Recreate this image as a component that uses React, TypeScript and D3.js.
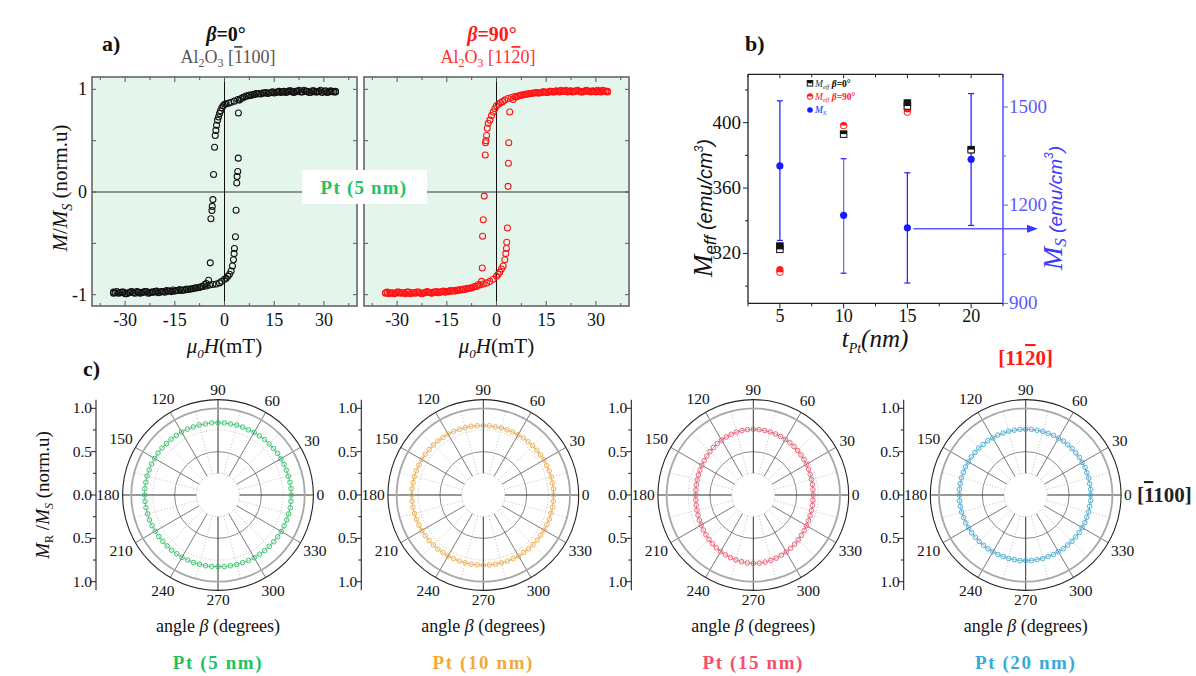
import React from 'react';
import * as d3 from 'd3';

const SERIF = "'Liberation Serif', 'Times New Roman', serif";
const SANS = "'Liberation Sans', Arial, sans-serif";

// ---------- Panel a data: hysteresis loops [H (mT), M/Ms] ----------
const beta0Down: number[][] = [[33.5,0.98],[33,0.975],[32,0.985],[31,0.97],[30,0.98],[29,0.99],[28,0.975],[27,0.985],[26,0.97],[25,0.98],[24,0.99],[23,0.975],[22,0.98],[21,0.97],[20,0.985],[19,0.975],[18,0.98],[17,0.97],[16,0.975],[15,0.965],[14,0.97],[13,0.96],[12,0.965],[11,0.955],[10,0.955],[9,0.95],[8,0.94],[7,0.935],[6,0.925],[5,0.91],[4,0.9],[3,0.885],[2,0.875],[1.2,0.865],[0.5,0.86],[0,0.855],[-0.4,0.84],[-0.8,0.82],[-1.2,0.79],[-1.5,0.765],[-1.8,0.73],[-2.1,0.7],[-2.4,0.65],[-2.6,0.6],[-2.8,0.55],[-3.0,0.435],[-3.3,0.17],[-3.5,-0.074],[-3.7,-0.14],[-3.8,-0.18],[-4.1,-0.26],[-4.3,-0.69],[-4.8,-0.86],[-5.5,-0.89],[-6,-0.9],[-7,-0.92],[-8,-0.93],[-9,-0.935],[-10,-0.945],[-11,-0.95],[-12,-0.955],[-13,-0.96],[-14,-0.96],[-15,-0.965],[-16,-0.97],[-17,-0.965],[-18,-0.975],[-19,-0.97],[-20,-0.98],[-21,-0.97],[-22,-0.975],[-23,-0.985],[-24,-0.97],[-25,-0.98],[-26,-0.975],[-27,-0.985],[-28,-0.97],[-29,-0.98],[-30,-0.99],[-31,-0.975],[-32,-0.985],[-33,-0.98],[-33.5,-0.975]];
const beta0Up: number[][] = [[-33.5,-0.985],[-32.5,-0.97],[-31.5,-0.98],[-30.5,-0.975],[-29.5,-0.99],[-28.5,-0.975],[-27.5,-0.98],[-26.5,-0.97],[-25.5,-0.985],[-24.5,-0.975],[-23.5,-0.97],[-22.5,-0.98],[-21.5,-0.975],[-20.5,-0.965],[-19.5,-0.975],[-18.5,-0.97],[-17.5,-0.96],[-16.5,-0.965],[-15.5,-0.955],[-14.5,-0.96],[-13.5,-0.95],[-12.5,-0.955],[-11.5,-0.945],[-10.5,-0.945],[-9.5,-0.94],[-8.5,-0.935],[-7.5,-0.93],[-6.5,-0.92],[-5.5,-0.915],[-4.5,-0.905],[-3.5,-0.9],[-2.5,-0.895],[-1.5,-0.885],[-0.8,-0.87],[0,-0.85],[0.5,-0.84],[1.0,-0.82],[1.5,-0.8],[2.0,-0.77],[2.4,-0.72],[2.7,-0.66],[2.9,-0.6],[3.0,-0.55],[3.3,-0.435],[3.5,-0.177],[3.7,0.087],[3.8,0.15],[4.0,0.2],[4.15,0.33],[4.2,0.77],[4.5,0.895],[5.5,0.92],[6.5,0.935],[7.5,0.945],[8.5,0.95],[9.5,0.96],[10.5,0.96],[11.5,0.965],[12.5,0.97],[13.5,0.965],[14.5,0.975],[15.5,0.97],[16.5,0.98],[17.5,0.975],[18.5,0.97],[19.5,0.985],[20.5,0.975],[21.5,0.98],[22.5,0.99],[23.5,0.975],[24.5,0.98],[25.5,0.97],[26.5,0.985],[27.5,0.975],[28.5,0.98],[29.5,0.97],[30.5,0.985],[31.5,0.975],[32.5,0.98],[33.5,0.975]];
const beta90Down: number[][] = [[33.5,0.98],[32.5,0.985],[31.5,0.975],[30.5,0.99],[29.5,0.98],[28.5,0.975],[27.5,0.985],[26.5,0.98],[25.5,0.975],[24.5,0.99],[23.5,0.98],[22.5,0.985],[21.5,0.975],[20.5,0.98],[19.5,0.99],[18.5,0.98],[17.5,0.975],[16.5,0.98],[15.5,0.97],[14.5,0.975],[13.5,0.97],[12.5,0.965],[11.5,0.965],[10.5,0.96],[9.5,0.955],[8.5,0.95],[7.5,0.945],[6.5,0.935],[5.5,0.93],[4.5,0.92],[3.5,0.91],[2.5,0.895],[1.8,0.88],[1.2,0.87],[0.6,0.855],[0,0.84],[-0.5,0.81],[-1.0,0.78],[-1.5,0.745],[-2.0,0.7],[-2.5,0.67],[-2.8,0.62],[-3.0,0.55],[-3.2,0.5],[-3.3,0.48],[-3.4,0.36],[-3.7,-0.04],[-4.0,-0.27],[-4.2,-0.43],[-4.3,-0.74],[-4.5,-0.87],[-5.5,-0.9],[-6.5,-0.92],[-7.5,-0.935],[-8.5,-0.94],[-9.5,-0.95],[-10.5,-0.955],[-11.5,-0.96],[-12.5,-0.965],[-13.5,-0.965],[-14.5,-0.97],[-15.5,-0.975],[-16.5,-0.97],[-17.5,-0.98],[-18.5,-0.975],[-19.5,-0.985],[-20.5,-0.975],[-21.5,-0.98],[-22.5,-0.99],[-23.5,-0.975],[-24.5,-0.985],[-25.5,-0.98],[-26.5,-0.975],[-27.5,-0.99],[-28.5,-0.98],[-29.5,-0.975],[-30.5,-0.985],[-31.5,-0.98],[-32.5,-0.99],[-33.5,-0.98]];
const beta90Up: number[][] = [[-33.5,-0.985],[-33,-0.975],[-32,-0.98],[-31,-0.99],[-30,-0.975],[-29,-0.985],[-28,-0.98],[-27,-0.975],[-26,-0.99],[-25,-0.98],[-24,-0.975],[-23,-0.985],[-22,-0.98],[-21,-0.97],[-20,-0.98],[-19,-0.975],[-18,-0.97],[-17,-0.975],[-16,-0.965],[-15,-0.97],[-14,-0.96],[-13,-0.96],[-12,-0.955],[-11,-0.95],[-10,-0.945],[-9,-0.94],[-8,-0.935],[-7,-0.925],[-6,-0.92],[-5,-0.905],[-4,-0.895],[-3,-0.885],[-2,-0.87],[-1,-0.85],[0,-0.82],[0.5,-0.8],[1.0,-0.78],[1.5,-0.75],[2.0,-0.72],[2.5,-0.66],[2.8,-0.6],[3.0,-0.55],[3.1,-0.49],[3.3,-0.35],[3.5,0.055],[3.6,0.28],[3.7,0.48],[4.0,0.78],[5,0.9],[6,0.925],[7,0.94],[8,0.945],[9,0.955],[10,0.96],[11,0.965],[12,0.97],[13,0.965],[14,0.975],[15,0.97],[16,0.98],[17,0.975],[18,0.985],[19,0.975],[20,0.98],[21,0.99],[22,0.98],[23,0.975],[24,0.985],[25,0.98],[26,0.975],[27,0.99],[28,0.98],[29,0.985],[30,0.975],[31,0.98],[32,0.99],[33,0.98],[33.5,0.975]];

const fieldTicks = [-30, -15, 0, 15, 30];
const fieldMinor = [-37.5, -22.5, -7.5, 7.5, 22.5, 37.5];
const magTicks = [-1, 0, 1];
const magAllTicks = [-1, -0.5, 0, 0.5, 1];

// ---------- Panel b data ----------
const tptTicks = [5, 10, 15, 20];
const tptMinor = [2.5, 7.5, 12.5, 17.5, 22.5];
const meff0: number[][] = [[5, 324.5], [5, 322.5], [10, 393], [15, 412], [15, 410.2], [20, 383.5]];
const meff90: number[][] = [[5, 310], [5, 308.5], [10, 398.2], [15, 408.2], [15, 406.4], [20, 383]];
const msThick = [5, 10, 15, 20];
const msValue = [1320, 1169, 1131, 1340];
const msLow = [1092, 992, 962, 1138];
const msHigh = [1519, 1342, 1299, 1541];
const meffTicks = [320, 360, 400];
const meffMinor = [300, 340, 380, 420];
const msTicks = [900, 1200, 1500];
const msMinor = [1050, 1350];

// ---------- Panel c data: remanence vs angle ----------
const polarAngles = d3.range(0, 360, 5);
const mr5 = [0.845,0.845,0.843,0.84,0.838,0.84,0.836,0.838,0.835,0.833,0.836,0.832,0.834,0.83,0.833,0.835,0.832,0.834,0.834,0.836,0.833,0.837,0.835,0.838,0.84,0.838,0.842,0.84,0.843,0.845,0.843,0.846,0.845,0.847,0.846,0.848,0.846,0.845,0.843,0.84,0.842,0.838,0.836,0.834,0.832,0.83,0.832,0.828,0.83,0.827,0.829,0.826,0.828,0.826,0.827,0.829,0.828,0.831,0.83,0.833,0.835,0.834,0.837,0.836,0.839,0.84,0.842,0.841,0.844,0.843,0.846,0.844];
const mr10 = [0.81,0.812,0.809,0.811,0.808,0.806,0.808,0.805,0.803,0.805,0.802,0.804,0.801,0.803,0.8,0.802,0.799,0.801,0.8,0.802,0.805,0.803,0.807,0.809,0.812,0.81,0.814,0.816,0.815,0.818,0.82,0.819,0.822,0.824,0.823,0.826,0.826,0.824,0.825,0.822,0.82,0.821,0.818,0.816,0.817,0.814,0.815,0.812,0.813,0.81,0.811,0.809,0.81,0.808,0.81,0.809,0.811,0.81,0.812,0.811,0.813,0.81,0.812,0.81,0.811,0.809,0.81,0.808,0.81,0.809,0.811,0.81];
const mr15 = [0.69,0.69,0.692,0.695,0.698,0.703,0.708,0.713,0.718,0.724,0.73,0.735,0.741,0.745,0.749,0.753,0.755,0.757,0.758,0.757,0.754,0.75,0.745,0.738,0.731,0.723,0.715,0.707,0.699,0.692,0.685,0.679,0.674,0.67,0.667,0.665,0.665,0.666,0.669,0.673,0.679,0.686,0.694,0.703,0.713,0.723,0.733,0.743,0.752,0.761,0.769,0.776,0.782,0.787,0.789,0.789,0.786,0.781,0.775,0.767,0.759,0.75,0.741,0.732,0.723,0.715,0.708,0.702,0.697,0.694,0.691,0.69];
const mr20 = [0.75,0.752,0.749,0.753,0.751,0.755,0.752,0.756,0.754,0.757,0.755,0.758,0.756,0.759,0.757,0.76,0.758,0.76,0.758,0.761,0.759,0.762,0.76,0.763,0.761,0.764,0.762,0.765,0.763,0.766,0.764,0.767,0.765,0.767,0.766,0.768,0.766,0.767,0.764,0.765,0.762,0.763,0.76,0.761,0.758,0.759,0.757,0.758,0.756,0.758,0.756,0.759,0.757,0.76,0.758,0.759,0.757,0.758,0.755,0.757,0.754,0.756,0.753,0.755,0.752,0.754,0.751,0.753,0.75,0.752,0.749,0.751];
const polarLabels = ['Pt (5 nm)', 'Pt (10 nm)', 'Pt (15 nm)', 'Pt (20 nm)'];
const polarColors = ['#22c25f', '#f5a73a', '#f3506c', '#38aad9'];
const angleTicks = d3.range(0, 360, 30);
const radialTicks = [1.0, 0.5, 0.0, 0.5, 1.0];

// ================= Panel a =================
function LoopPlot({ left, right, down, up, color, showY }: any) {
  const top = 77, bottom = 306;
  const x = d3.scaleLinear().domain([-40, 40]).range([left, right]);
  const y = d3.scaleLinear().domain([-1.11, 1.12]).range([bottom, top]);
  const pts = [...down, ...up];
  return (
    <g>
      <rect x={left} y={top} width={right - left} height={bottom - top} fill="#e4f6ec" />
      <line x1={left} x2={right} y1={y(0)} y2={y(0)} stroke="#333" strokeWidth={1} />
      <line x1={x(0)} x2={x(0)} y1={top} y2={bottom} stroke="#111" strokeWidth={1} />
      {pts.map((p: number[], i: number) => (
        <circle key={i} cx={x(p[0])} cy={y(p[1])} r={3} fill="none" stroke={color} strokeWidth={1.05} />
      ))}
      {[...fieldTicks, ...fieldMinor].map((t, i) => {
        const len = fieldTicks.includes(t) ? 5 : 3;
        return (
          <g key={'xt' + i}>
            <line x1={x(t)} x2={x(t)} y1={bottom} y2={bottom - len} stroke="#555" />
            <line x1={x(t)} x2={x(t)} y1={top} y2={top + len} stroke="#555" />
          </g>
        );
      })}
      {magAllTicks.map((t, i) => (
        <g key={'yt' + i}>
          <line x1={left} x2={left + 4} y1={y(t)} y2={y(t)} stroke="#555" />
          <line x1={right} x2={right - 4} y1={y(t)} y2={y(t)} stroke="#555" />
        </g>
      ))}
      <rect x={left} y={top} width={right - left} height={bottom - top} fill="none" stroke="#666" strokeWidth={1.6} />
      {fieldTicks.map((t) => (
        <text key={'xl' + t} x={x(t)} y={bottom + 20} textAnchor="middle" fontSize={18} fontFamily={SERIF} fill="#111">
          {t}
        </text>
      ))}
      {showY &&
        magTicks.map((t) => (
          <text key={'yl' + t} x={left - 5} y={y(t) + 6} textAnchor="end" fontSize={18} fontFamily={SERIF} fill="#111">
            {t}
          </text>
        ))}
      <text x={x(0)} y={bottom + 47} textAnchor="middle" fontSize={21} fontFamily={SERIF} fill="#111">
        <tspan fontStyle="italic">μ</tspan>
        <tspan fontStyle="italic" fontSize={13} dy={5}>0</tspan>
        <tspan fontStyle="italic" dy={-5}>H</tspan>
        <tspan>(mT)</tspan>
      </text>
    </g>
  );
}

function PanelA() {
  return (
    <g fontFamily={SERIF}>
      <text x={102} y={51} fontSize={22} fontWeight="bold" fill="#111">a)</text>
      <text x={226} y={41} textAnchor="middle" fontSize={20} fontWeight="bold" fill="#111">
        <tspan fontStyle="italic">β</tspan>=0°
      </text>
      <text x={228} y={63} textAnchor="middle" fontSize={18} fill="#555">
        Al<tspan fontSize={12} dy={4}>2</tspan><tspan dy={-4}>O</tspan><tspan fontSize={12} dy={4}>3</tspan>
        <tspan dy={-4}> [</tspan><tspan style={{ textDecoration: 'overline' }}>1</tspan><tspan>100]</tspan>
      </text>
      <text x={492} y={41} textAnchor="middle" fontSize={20} fontWeight="bold" fill="#ff1a1a">
        <tspan fontStyle="italic">β</tspan>=90°
      </text>
      <text x={488} y={63} textAnchor="middle" fontSize={18} fill="#ff3030">
        Al<tspan fontSize={12} dy={4}>2</tspan><tspan dy={-4}>O</tspan><tspan fontSize={12} dy={4}>3</tspan>
        <tspan dy={-4}> [11</tspan><tspan style={{ textDecoration: 'overline' }}>2</tspan><tspan>0]</tspan>
      </text>
      <LoopPlot left={92} right={357} down={beta0Down} up={beta0Up} color="#111" showY />
      <LoopPlot left={364} right={629} down={beta90Down} up={beta90Up} color="#ff1010" showY={false} />
      <text transform="translate(67,188) rotate(-90)" textAnchor="middle" fontSize={21} fill="#111">
        <tspan fontStyle="italic">M</tspan>/<tspan fontStyle="italic">M</tspan>
        <tspan fontStyle="italic" fontSize={14} dy={5}>S</tspan>
        <tspan dy={-5}> (norm.u)</tspan>
      </text>
      <rect x={302} y={170} width={125} height={34} fill="#ffffff" />
      <text x={364} y={194} textAnchor="middle" fontSize={19} fontWeight="bold" fill="#22c25f" letterSpacing={1.2}>Pt (5 nm)</text>
    </g>
  );
}

// ================= Panel b =================
function HalfSquare({ cx, cy, s, color }: any) {
  return (
    <g>
      <rect x={cx - s / 2} y={cy - s / 2} width={s} height={s} fill="#fff" stroke={color} strokeWidth={1} />
      <rect x={cx - s / 2} y={cy - s / 2} width={s} height={s / 2} fill={color} />
    </g>
  );
}
function HalfCircle({ cx, cy, r, color }: any) {
  return (
    <g>
      <circle cx={cx} cy={cy} r={r} fill="#fff" stroke={color} strokeWidth={1} />
      <path d={`M${cx - r},${cy} A${r},${r} 0 0 1 ${cx + r},${cy} Z`} fill={color} />
    </g>
  );
}

function PanelB() {
  const left = 748, right = 1003, top = 74.3, bottom = 303.3;
  const x = d3.scaleLinear().domain([2.5, 22.5]).range([left, right]);
  const yL = d3.scaleLinear().domain([289.5, 429.6]).range([bottom, top]);
  const yR = d3.scaleLinear().domain([900, 1600]).range([bottom, top]);
  const blue = '#1a1aff';
  const axisBlue = '#5a5aff';
  return (
    <g fontFamily={SERIF}>
      <text x={745} y={51} fontSize={22} fontWeight="bold" fill="#111">b)</text>
      {/* frame */}
      <line x1={left} x2={right} y1={top} y2={top} stroke="#222" strokeWidth={1.3} />
      <line x1={left} x2={right} y1={bottom} y2={bottom} stroke="#222" strokeWidth={1.3} />
      <line x1={left} x2={left} y1={top} y2={bottom} stroke="#222" strokeWidth={1.3} />
      <line x1={right} x2={right} y1={top} y2={bottom} stroke={axisBlue} strokeWidth={1.6} />
      {/* x ticks */}
      {[...tptTicks, ...tptMinor].map((t, i) => {
        const major = tptTicks.includes(t);
        return (
          <g key={'bx' + i}>
            <line x1={x(t)} x2={x(t)} y1={bottom} y2={bottom + (major ? 5 : 3)} stroke="#222" />
            <line x1={x(t)} x2={x(t)} y1={top} y2={top + (major ? 4 : 3)} stroke="#222" />
          </g>
        );
      })}
      {tptTicks.map((t) => (
        <text key={'bxl' + t} x={x(t)} y={bottom + 19} textAnchor="middle" fontSize={18} fill="#111">{t}</text>
      ))}
      {/* left ticks */}
      {[...meffTicks, ...meffMinor].map((t, i) => (
        <line key={'byl' + i} x1={left} x2={left - (meffTicks.includes(t) ? 5 : 3)} y1={yL(t)} y2={yL(t)} stroke="#222" />
      ))}
      {meffTicks.map((t) => (
        <text key={'bylt' + t} x={left - 7} y={yL(t) + 6} textAnchor="end" fontSize={19} fill="#111">{t}</text>
      ))}
      {/* right ticks */}
      {[...msTicks, ...msMinor].map((t, i) => (
        <line key={'byr' + i} x1={right} x2={right + (msTicks.includes(t) ? 5 : 3)} y1={yR(t)} y2={yR(t)} stroke={axisBlue} />
      ))}
      {msTicks.map((t) => (
        <text key={'byrt' + t} x={right + 6} y={yR(t) + 6} textAnchor="start" fontSize={19} fill={axisBlue}>{t}</text>
      ))}
      {/* Ms error bars */}
      {msThick.map((t, i) => (
        <g key={'ms' + i}>
          <line x1={x(t)} x2={x(t)} y1={yR(msLow[i])} y2={yR(msHigh[i])} stroke={i === 1 ? '#6f6fff' : '#2b2bff'} strokeWidth={1.3} />
          <line x1={x(t) - 3} x2={x(t) + 3} y1={yR(msLow[i])} y2={yR(msLow[i])} stroke="#2b2bff" strokeWidth={1.3} />
          <line x1={x(t) - 3} x2={x(t) + 3} y1={yR(msHigh[i])} y2={yR(msHigh[i])} stroke="#2b2bff" strokeWidth={1.3} />
        </g>
      ))}
      {/* arrow */}
      <line x1={x(15) + 6} x2={right + 26} y1={yR(msValue[2]) + 1} y2={yR(msValue[2]) + 1} stroke="#5a5aff" strokeWidth={1.6} />
      <path d={`M${right + 24},${yR(msValue[2]) - 3} L${right + 35},${yR(msValue[2]) + 1} L${right + 24},${yR(msValue[2]) + 5} Z`} fill="#3a3aff" />
      {msThick.map((t, i) => (
        <circle key={'msc' + i} cx={x(t)} cy={yR(msValue[i])} r={3.6} fill={blue} />
      ))}
      {meff90.map((p, i) => (
        <HalfCircle key={'m90' + i} cx={x(p[0])} cy={yL(p[1])} r={3.3} color="#ff1a1a" />
      ))}
      {meff0.map((p, i) => (
        <HalfSquare key={'m0' + i} cx={x(p[0])} cy={yL(p[1])} s={6.5} color="#111" />
      ))}
      {/* legend */}
      <HalfSquare cx={810} cy={83.3} s={5.5} color="#111" />
      <text x={815} y={86.5} fontSize={9.5} fill="#333">
        <tspan fontStyle="italic">M</tspan><tspan fontStyle="italic" fontSize={6.5} dy={2}>eff</tspan>
        <tspan dy={-2} fontStyle="italic" fontWeight="bold" fill="#000"> β</tspan><tspan fontWeight="bold" fill="#000">=0°</tspan>
      </text>
      <HalfCircle cx={810} cy={96.5} r={2.8} color="#ff1a1a" />
      <text x={815} y={99.7} fontSize={9.5} fill="#ff1a1a">
        <tspan fontStyle="italic">M</tspan><tspan fontStyle="italic" fontSize={6.5} dy={2}>eff</tspan>
        <tspan dy={-2} fontStyle="italic" fontWeight="bold"> β</tspan><tspan fontWeight="bold">=90°</tspan>
      </text>
      <circle cx={810} cy={110} r={2.8} fill={blue} />
      <text x={815} y={113} fontSize={9.5} fill={blue}>
        <tspan fontStyle="italic">M</tspan><tspan fontStyle="italic" fontSize={6.5} dy={2}>S</tspan>
      </text>
      {/* axis titles */}
      <text transform="translate(712,208) rotate(-90)" textAnchor="middle" fill="#111">
        <tspan fontStyle="italic" fontSize={27}>M</tspan>
        <tspan fontStyle="italic" fontSize={17} fontFamily={SANS} dy={4}>eff</tspan>
        <tspan dy={-4} fontSize={20} fontFamily={SANS} fontStyle="italic"> (emu/cm</tspan>
        <tspan fontSize={12} fontFamily={SANS} fontStyle="italic" dy={-9}>3</tspan>
        <tspan fontSize={20} fontFamily={SANS} fontStyle="italic" dy={9}>)</tspan>
      </text>
      <text transform="translate(1062,208) rotate(-90)" textAnchor="middle" fill="#3a3aff">
        <tspan fontStyle="italic" fontSize={28}>M</tspan>
        <tspan fontStyle="italic" fontSize={17} dy={4}>S</tspan>
        <tspan dy={-4} fontSize={19} fontFamily={SANS} fontStyle="italic"> (emu/cm</tspan>
        <tspan fontSize={12} fontFamily={SANS} fontStyle="italic" dy={-9}>3</tspan>
        <tspan fontSize={19} fontFamily={SANS} fontStyle="italic" dy={9}>)</tspan>
      </text>
      <text x={875} y={347} textAnchor="middle" fill="#111" fontStyle="italic">
        <tspan fontSize={25}>t</tspan>
        <tspan fontSize={14} dy={6}>Pt</tspan>
        <tspan fontSize={25} dy={-6}>(nm)</tspan>
      </text>
    </g>
  );
}

// ================= Panel c =================
function Polar({ cx, values, color, label }: any) {
  const cy = 495;
  const r = d3.scaleLinear().domain([0, 1]).range([0, 86.7]);
  const rOut = r(1.1);
  const rad = (a: number) => (a * Math.PI) / 180;
  const px = (a: number, v: number) => cx + r(v) * Math.cos(rad(a));
  const py = (a: number, v: number) => cy - r(v) * Math.sin(rad(a));
  const ring = d3
    .lineRadial<number>()
    .angle((_, i) => rad(90 - polarAngles[i]))
    .radius((d) => r(d))
    .curve(d3.curveLinearClosed)(values as number[]);
  const axisX = cx - 122;
  const yAxis = d3.scaleLinear().domain([-1.1, 1.1]).range([cy - rOut, cy + rOut]);
  const axisPos = [-1, -0.5, 0, 0.5, 1];
  const minorPos = [-0.75, -0.25, 0.25, 0.75];
  return (
    <g fontFamily={SERIF}>
      {/* grid */}
      <circle cx={cx} cy={cy} r={r(0.25)} fill="none" stroke="#aaa" strokeWidth={0.7} strokeDasharray="1.2 1.8" />
      <circle cx={cx} cy={cy} r={r(0.5)} fill="none" stroke="#8a8a8a" strokeWidth={1} />
      <circle cx={cx} cy={cy} r={r(0.75)} fill="none" stroke="#b0b0b0" strokeWidth={0.7} strokeDasharray="1.2 1.8" />
      {d3.range(15, 360, 30).map((a) => (
        <line key={'mn' + a} x1={px(a, 0.25)} y1={py(a, 0.25)} x2={px(a, 1.0)} y2={py(a, 1.0)} stroke="#b5b5b5" strokeWidth={0.7} strokeDasharray="1.2 1.8" />
      ))}
      {angleTicks.map((a) => {
        const axisLine = a % 90 === 0;
        return (
          <line key={'sp' + a} x1={px(a, 0.25)} y1={py(a, 0.25)} x2={px(a, 1.1)} y2={py(a, 1.1)} stroke={axisLine ? '#333' : '#6a6a6a'} strokeWidth={axisLine ? 1 : 0.9} />
        );
      })}
      <circle cx={cx} cy={cy} r={r(1.0)} fill="none" stroke="#a8a8a8" strokeWidth={1.8} />
      <circle cx={cx} cy={cy} r={rOut} fill="none" stroke="#222" strokeWidth={1.1} />
      {/* data */}
      <path d={ring || ''} transform={`translate(${cx},${cy})`} fill="none" stroke={d3.color(color)!.darker(1.2).formatHex()} strokeWidth={0.6} strokeOpacity={0.8} />
      {values.map((v: number, i: number) => (
        <circle key={'p' + i} cx={px(polarAngles[i], v)} cy={py(polarAngles[i], v)} r={2.3} fill="none" stroke={color} strokeWidth={0.9} />
      ))}
      {/* angle labels */}
      {angleTicks.map((a) => {
        const txt = String(a);
        const w = txt.length * 7.8;
        const c = Math.cos(rad(a)), s = Math.sin(rad(a));
        const d = rOut + 3 + (Math.abs(c) * w) / 2 + Math.abs(s) * 7;
        return (
          <text key={'al' + a} x={cx + d * c} y={cy - d * s + 5} textAnchor="middle" fontSize={15.5} fill="#111">{txt}</text>
        );
      })}
      {/* radial axis */}
      <line x1={axisX} x2={axisX} y1={cy - rOut} y2={cy + rOut} stroke="#222" strokeWidth={1.1} />
      {axisPos.map((p, i) => (
        <g key={'ra' + i}>
          <line x1={axisX - 5} x2={axisX} y1={yAxis(p)} y2={yAxis(p)} stroke="#222" />
          <text x={axisX - 4} y={yAxis(p) + 5} textAnchor="end" fontSize={15.5} fill="#111">{radialTicks[i].toFixed(1)}</text>
        </g>
      ))}
      {minorPos.map((p, i) => (
        <line key={'rm' + i} x1={axisX - 3} x2={axisX} y1={yAxis(p)} y2={yAxis(p)} stroke="#222" />
      ))}
      <text x={cx} y={632} textAnchor="middle" fontSize={18} fill="#111">
        angle <tspan fontStyle="italic">β</tspan> (degrees)
      </text>
      <text x={cx} y={669} textAnchor="middle" fontSize={19} fontWeight="bold" fill={color} letterSpacing={1.6}>{label}</text>
    </g>
  );
}

function PanelC() {
  const centers = [218, 483.3, 753.3, 1025.7];
  const data = [mr5, mr10, mr15, mr20];
  return (
    <g fontFamily={SERIF}>
      <text x={83} y={376} fontSize={22} fontWeight="bold" fill="#111">c)</text>
      <text transform="translate(49,495) rotate(-90)" textAnchor="middle" fontSize={19} fill="#111">
        <tspan fontStyle="italic">M</tspan><tspan fontSize={12} dy={4}>R</tspan>
        <tspan dy={-4}> /</tspan><tspan fontStyle="italic">M</tspan><tspan fontSize={12} fontStyle="italic" dy={4}>S</tspan>
        <tspan dy={-4}> (norm.u)</tspan>
      </text>
      {centers.map((c, i) => (
        <Polar key={i} cx={c} values={data[i]} color={polarColors[i]} label={polarLabels[i]} />
      ))}
      <text x={1025.7} y={365} textAnchor="middle" fontSize={21} fontWeight="bold" fill="#ff1a1a">
        [11<tspan style={{ textDecoration: 'overline' }}>2</tspan>0]
      </text>
      <text x={1137} y={502} fontSize={21} fontWeight="bold" fill="#222">
        [<tspan style={{ textDecoration: 'overline' }}>1</tspan>100]
      </text>
    </g>
  );
}

export default function App() {
  return (
    <svg width={1196} height={676} viewBox="0 0 1196 676" style={{ position: 'absolute', left: 0, top: 0, background: '#fff' }}>
      <rect x={0} y={0} width={1196} height={676} fill="#fff" />
      <PanelA />
      <PanelB />
      <PanelC />
    </svg>
  );
}
